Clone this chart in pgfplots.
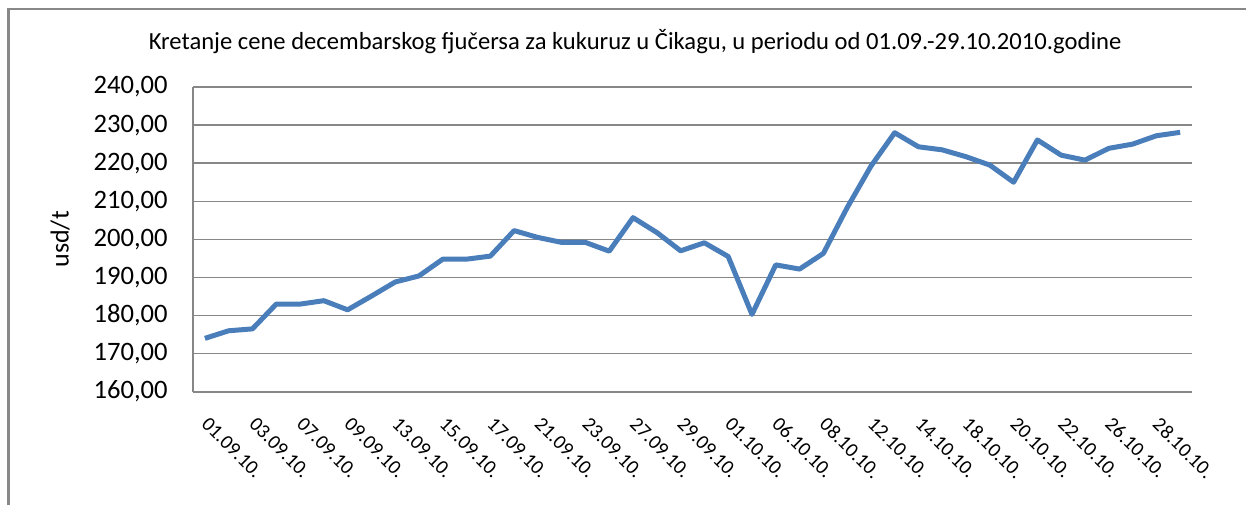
\documentclass[border=0pt]{standalone}
\usepackage{fontspec}
\setmainfont{Carlito}
\usepackage{pgfplots}
\pgfplotsset{compat=1.18}
\definecolor{gridgrey}{HTML}{878787}
\definecolor{framegrey}{HTML}{888888}
\definecolor{lineblue}{HTML}{4A7EBB}
\begin{document}
\begin{tikzpicture}
\path[use as bounding box] (0,0) rectangle (623pt,252.5pt);
\draw[framegrey, line width=1.2pt] (4.2pt,0) -- (4.2pt,248pt) -- (623pt,248pt);
\begin{axis}[
  at={(96.5pt,56.65pt)}, anchor=south west,
  scale only axis, width=499.5pt, height=152.35pt,
  xmin=-0.5, xmax=41.5, ymin=160, ymax=240,
  ytick={160,170,...,240},
  xtick={0,2,...,40},
  xticklabels={01.09.10.,03.09.10.,07.09.10.,09.09.10.,13.09.10.,15.09.10.,17.09.10.,21.09.10.,23.09.10.,27.09.10.,29.09.10.,01.10.10.,06.10.10.,08.10.10.,12.10.10.,14.10.10.,18.10.10.,20.10.10.,22.10.10.,26.10.10.,28.10.10.},
  axis lines*=left,
  axis line style={-, draw=gridgrey, line width=1pt},
  ymajorgrids,
  grid style={draw=gridgrey, line width=0.75pt},
  major tick length=0pt,
  tick style={draw=none},
  /pgf/number format/.cd, fixed, fixed zerofill, precision=2, use comma, assume math mode=true,
  /pgfplots/.cd,
  yticklabel style={font=\fontsize{13.3}{15}\selectfont, anchor=east, inner sep=0pt, xshift=-12.5pt},
  xticklabel style={xshift=2.5pt, yshift=-12pt, rotate=-45, anchor=north west, inner sep=0pt, font=\fontsize{10}{12}\selectfont},
  title={Kretanje cene decembarskog fjučersa za kukuruz u Čikagu, u periodu od 01.09.-29.10.2010.godine},
  title style={at={(0.4425,1.148)}, anchor=center, yshift=-6pt, font=\fontsize{12.3}{14}\selectfont},
  ylabel={usd/t},
  ylabel style={at={(rel axis cs:-0.133,0.5)}, anchor=center, font=\fontsize{13}{15}\selectfont},
]
\addplot[lineblue, line width=2.5pt, line join=round, mark=none] coordinates {
(0,174.0) (1,176.0) (2,176.5) (3,183.0) (4,183.0) (5,183.9) (6,181.5) (7,185.1)
(8,188.8) (9,190.4) (10,194.8) (11,194.8) (12,195.6) (13,202.3) (14,200.5)
(15,199.2) (16,199.2) (17,196.9) (18,205.7) (19,201.8) (20,197.0) (21,199.1)
(22,195.5) (23,180.3) (24,193.3) (25,192.2) (26,196.3) (27,208.3) (28,219.2)
(29,228.0) (30,224.3) (31,223.5) (32,221.7) (33,219.5) (34,215.0) (35,226.1)
(36,222.1) (37,220.8) (38,223.9) (39,225.0) (40,227.2) (41,228.1)
};
\end{axis}
\end{tikzpicture}
\end{document}
